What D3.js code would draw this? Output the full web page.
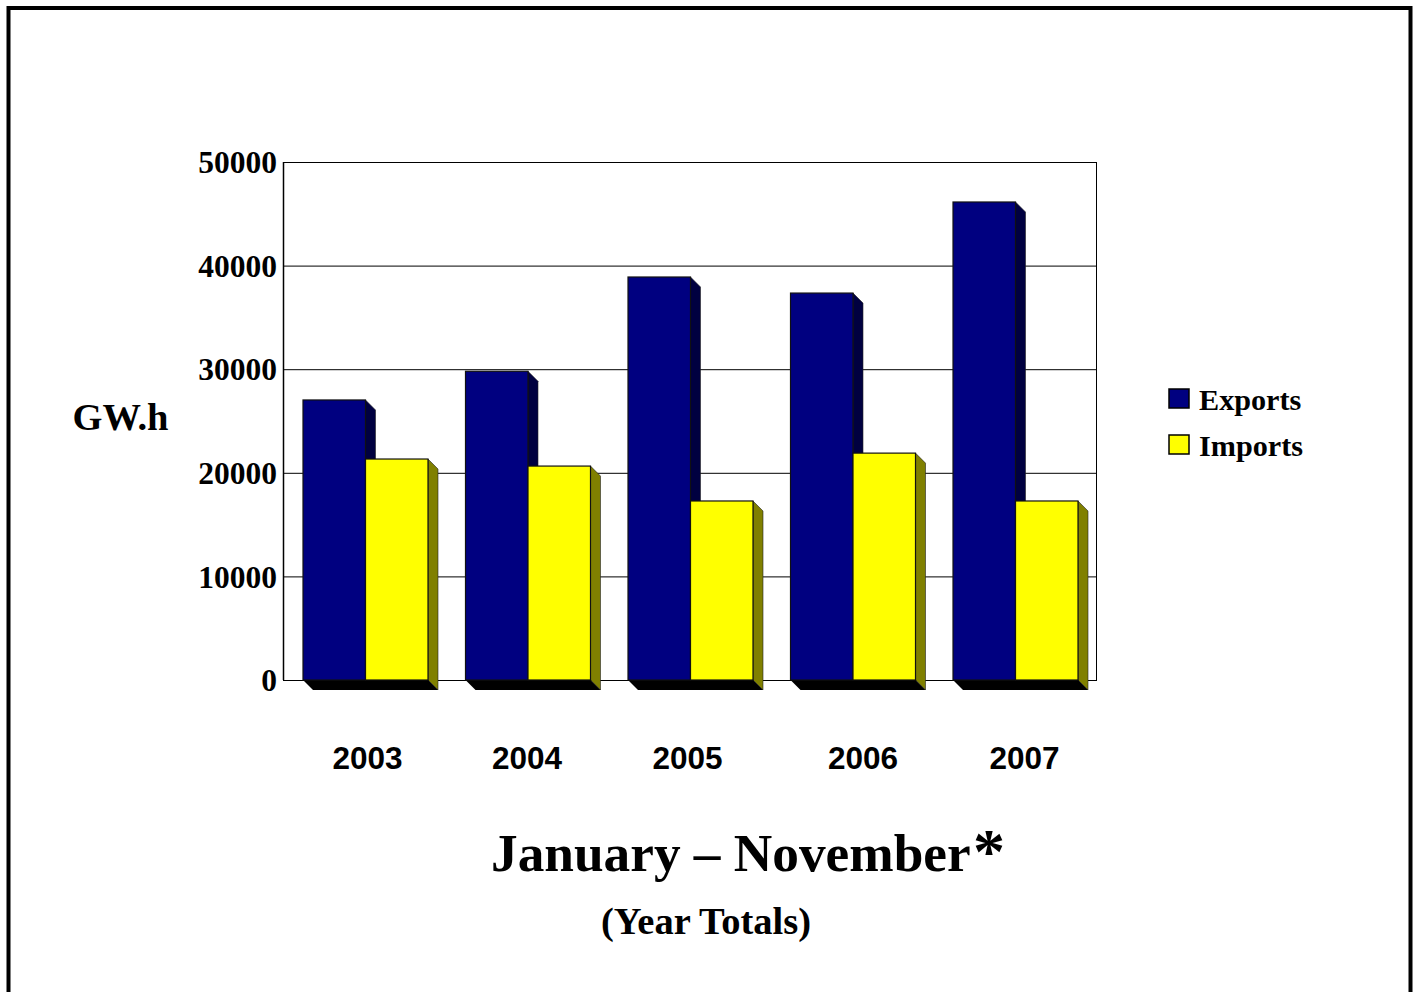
<!DOCTYPE html>
<html><head><meta charset="utf-8">
<script src="https://cdnjs.cloudflare.com/ajax/libs/d3/7.8.5/d3.min.js"></script>
<style>html,body{margin:0;padding:0;background:#fff;overflow:hidden}svg{display:block}
text{font-weight:bold;fill:#000}.serif{font-family:"Liberation Serif",serif}.sans{font-family:"Liberation Sans",sans-serif}</style>
</head><body><svg id="c" width="1419" height="992"></svg>
<script>
const years = ["2003","2004","2005","2006","2007"];
const seriesNames = ["Exports","Imports"];
const exportsGWh = [27030,29800,38900,37350,46140];
const importsGWh = [21330,20650,17280,21900,17280];
const yTicks = [0,10000,20000,30000,40000,50000];

const svg = d3.select("#c");
const L=283,R=1096,T=162,B=680,D=10;
const colors={Exports:{f:"#000080",s:"#000040"},Imports:{f:"#ffff00",s:"#808000"}};
const values={Exports:exportsGWh,Imports:importsGWh};

svg.append("path").attr("d","M8.5,1000V8H1410.5V1000").attr("fill","none").attr("stroke","#000").attr("stroke-width",4);

const y=d3.scaleLinear().domain([0,50000]).range([B,T]);
const x0=d3.scaleBand().domain(years).range([L+20,R-18]).paddingInner(0.2308).paddingOuter(0);
const x1=d3.scaleBand().domain(seriesNames).range([0,x0.bandwidth()]);

const plot=svg.append("g");
plot.append("rect").attr("x",L).attr("y",T).attr("width",R-L).attr("height",B-T).attr("fill","#fff");
plot.selectAll("line.grid").data(yTicks).join("line").attr("class","grid")
 .attr("x1",L).attr("x2",R).attr("y1",d=>y(d)+.5).attr("y2",d=>y(d)+.5).attr("stroke","#000").attr("stroke-width",1);
plot.append("rect").attr("x",L+.5).attr("y",T+.5).attr("width",R-L).attr("height",B-T).attr("fill","none").attr("stroke","#000");
plot.append("line").attr("x1",L+.5).attr("x2",L+.5).attr("y1",T).attr("y2",B).attr("stroke","#000").attr("stroke-width",1.5);

const groups=plot.selectAll("g.yr").data(years).join("g").attr("class","yr").attr("transform",d=>`translate(${x0(d)},0)`);
groups.each(function(yr,i){
  const g=d3.select(this);
  const gw=x0.bandwidth();
  seriesNames.forEach(s=>{
    const v=values[s][i],bx=x1(s),w=x1.bandwidth(),ty=y(v);
    g.append("path").attr("d",`M${bx+w},${ty}l${D},${D}V${B+D}l${-D},${-D}Z`).attr("fill",colors[s].s).attr("stroke","#222").attr("stroke-width",.6);
  });
  g.append("path").attr("d",`M0,${B}H${gw}l${D},${D}H${D}Z`).attr("fill","#000");
  seriesNames.forEach(s=>{
    const v=values[s][i],bx=x1(s),w=x1.bandwidth(),ty=y(v);
    g.append("rect").attr("x",bx).attr("y",ty).attr("width",w).attr("height",B-ty).attr("fill",colors[s].f).attr("stroke","#111").attr("stroke-width",1.2);
  });
});

const axis=d3.axisLeft(y).tickValues(yTicks).tickFormat(d3.format("d")).tickSize(0).tickPadding(6);
const ag=svg.append("g").attr("transform",`translate(${L},0)`).call(axis);
ag.select(".domain").remove();
ag.selectAll("text").attr("class","serif").style("font-size","31.5px").style("font-weight","bold").attr("fill","#000").attr("dy","0.34em");

// Year labels are hand-placed in the original slide, hence the nudges
const nudge=[2,-1,-3,10,9];
svg.selectAll("text.yr").data(years).join("text").attr("class","yr sans")
 .attr("x",(d,i)=>x0(d)+x0.bandwidth()/2+nudge[i]).attr("y",769).attr("text-anchor","middle")
 .style("font-size","31.5px").text(d=>d);

svg.append("text").attr("class","serif").attr("x",120.5).attr("y",430).attr("text-anchor","middle").style("font-size","38.5px").text("GW.h");

const lg=svg.selectAll("g.lg").data(seriesNames).join("g").attr("class","lg").attr("transform",(d,i)=>`translate(1169,${389+i*46})`);
lg.append("rect").attr("x",0).attr("y",0).attr("width",20).attr("height",19).attr("fill",d=>colors[d].f).attr("stroke","#000").attr("stroke-width",1.5);
lg.append("text").attr("class","serif").attr("x",30).attr("y",21).style("font-size","30.2px").text(d=>d);

svg.append("text").attr("class","serif").attr("x",491).attr("y",871).style("font-size","53.3px").text("January – November");
svg.append("text").attr("class","serif").attr("x",973).attr("y",873).style("font-size","64px").text("*");
svg.append("text").attr("class","serif").attr("x",601).attr("y",934).style("font-size","38.5px").text("(Year Totals)");
</script></body></html>
